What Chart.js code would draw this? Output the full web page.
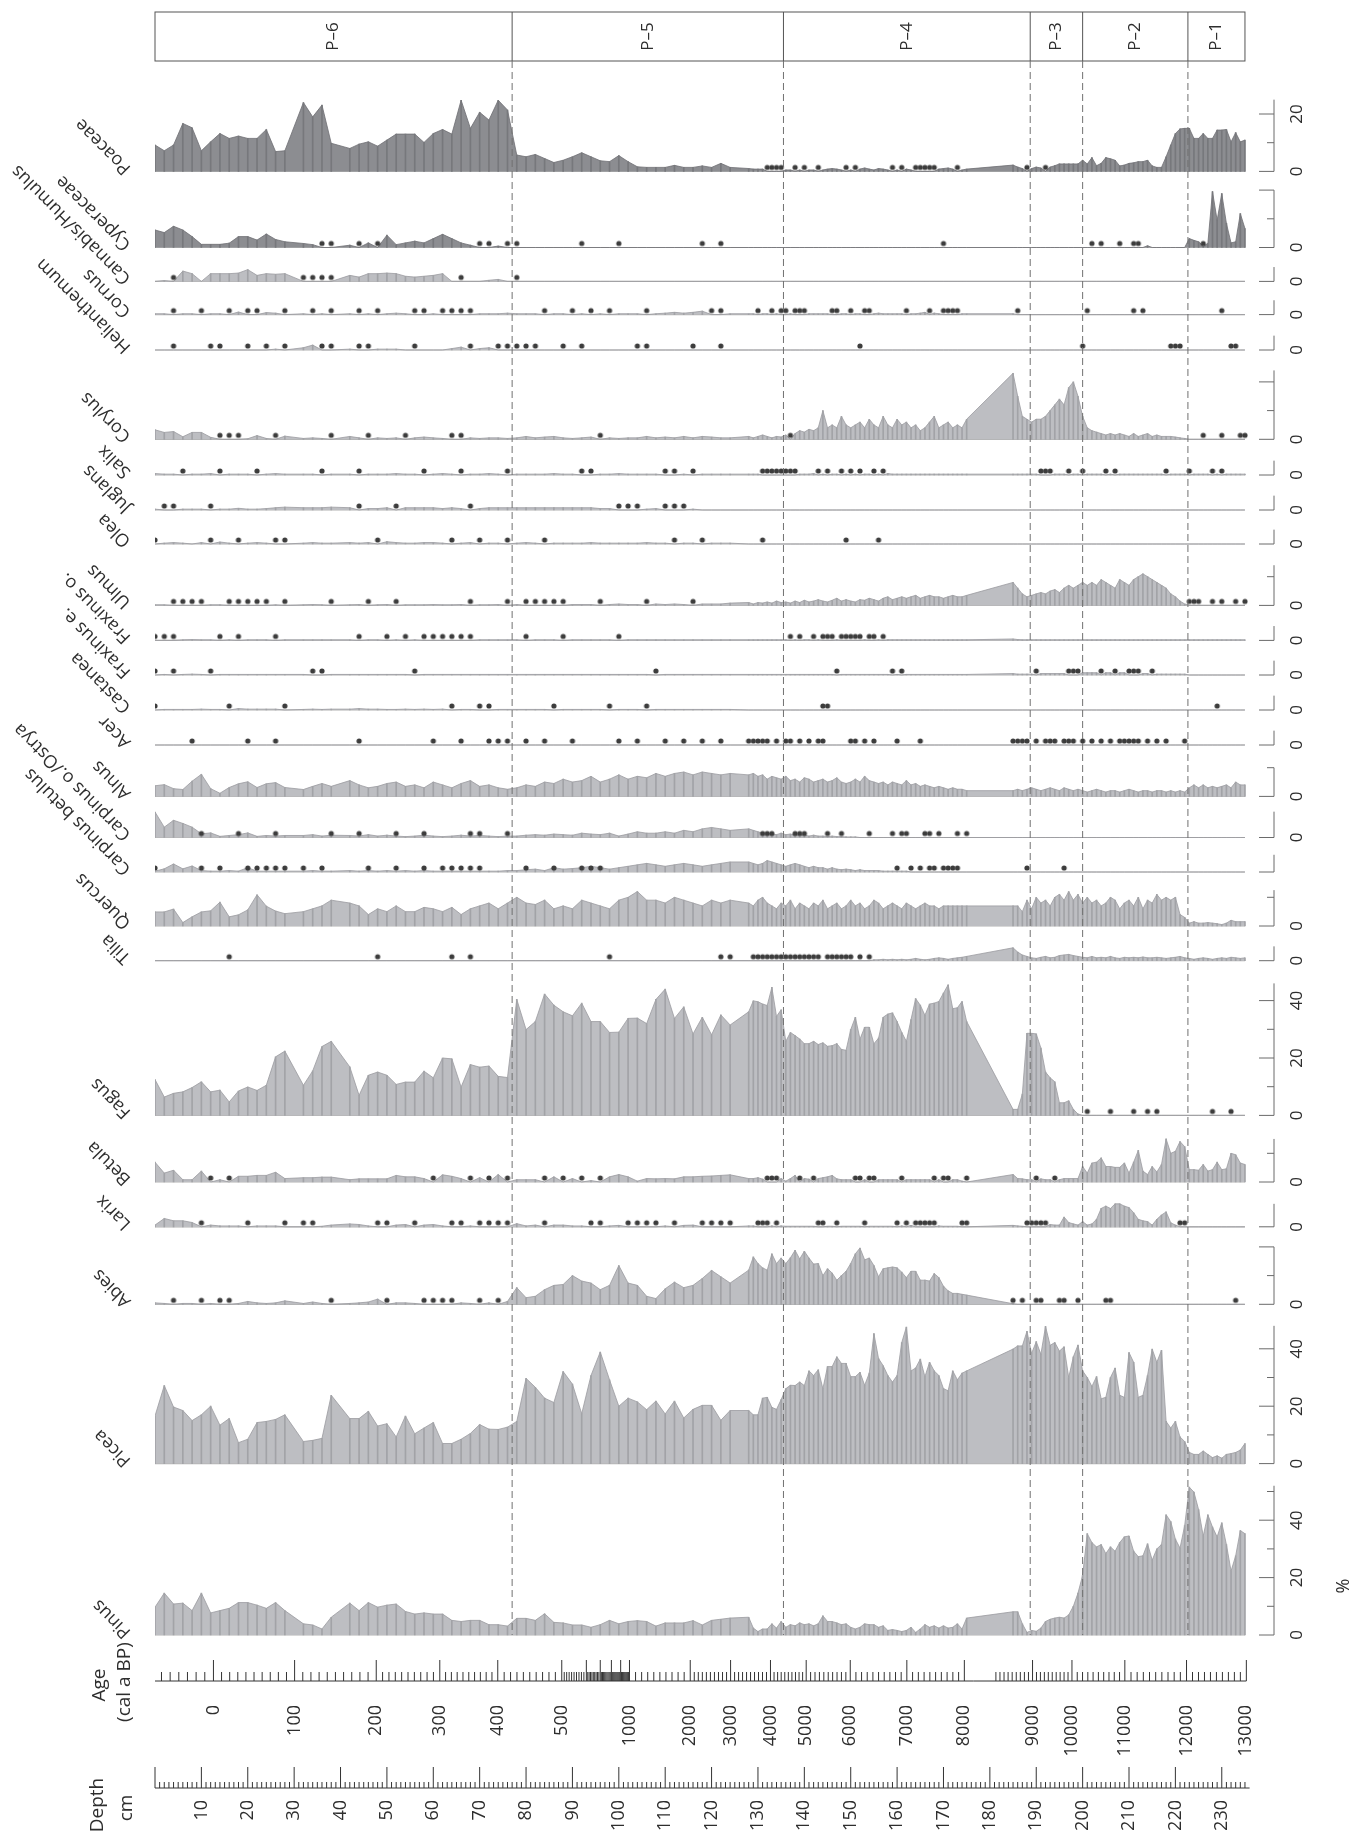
<!DOCTYPE html>
<html><head><meta charset="utf-8">
<script src="https://cdn.jsdelivr.net/npm/chart.js@4.4.1/dist/chart.umd.min.js"></script>
<style>html,body{margin:0;padding:0;background:#fff}#wrap{width:1354px;height:1836px}</style>
</head><body><div id="wrap"><canvas id="c" width="1354" height="1836"></canvas></div>
<script>
// ---------------- DATA ----------------
const depths = [0,2,4,6,8,10,12,14,16,18,20,22,24,26,28,32,34,36,38,42,44,46,48,50,52,54,56,58,60,62,64,66,68,70,72,74,76,
78,80,82,84,86,88,90,92,94,96,98,100,102,104,106,108,110,112,114,116,118,120,122,124,
128,129,130,131,132,133,134,135,136,137,138,139,140,141,142,143,144,145,146,147,148,149,150,151,152,153,154,155,156,157,158,159,160,161,162,163,164,165,166,167,168,169,170,171,172,173,174,175,
185,186,187,188,189,190,191,192,193,194,195,196,197,198,199,200,201,202,203,204,205,206,207,208,209,210,211,212,213,214,215,216,217,218,219,220,221,222,223,224,225,226,227,228,229,230,231,232,233,234,235];

const taxa = ['Poaceae','Cyperaceae','Cannabis/Humulus','Cornus','Helianthemum','Corylus','Salix','Juglans','Olea','Ulmus','Fraxinus o.','Fraxinus e.','Castanea','Acer','Alnus','Carpinus o./Ostrya','Carpinus betulus','Quercus','Tilia','Fagus','Betula','Larix','Abies','Picea','Pinus'];

const poaceae = [9.2,7.2,9.2,16.7,15.2,7.2,10.3,13.2,11.5,12.3,11.5,11.5,14.6,6.9,7.2,24.0,19.0,23.1,9.8,8.0,9.5,10.3,8.8,10.9,13.0,13.0,13.0,10.1,13.2,14.6,13.0,24.8,15.0,20.6,17.9,24.8,21.4,
5.7,5.1,5.9,4.5,3.1,3.9,5.1,6.5,5.1,3.7,3.4,5.5,3.4,1.6,1.4,1.4,1.4,2.1,1.4,1.4,1.9,1.4,2.8,1.4,
1.0,0.8,0.8,0.8,0,0,0,0,0.5,0.5,0,0.5,0,0.5,0.5,0,0.5,0.8,1.0,0.8,0.5,0,0.5,0,0.8,1.2,0.8,0.5,1.0,0.8,0.5,0,0.5,0,0.8,0.5,0,0,0,0,0,0.8,1.0,1.2,0.8,0,0.5,0.8,
2.2,1.5,1.0,0,1.0,1.5,1.2,0,1.5,2.0,2.6,2.6,2.6,2.6,2.6,3.9,2.6,4.8,2.0,2.8,4.8,4.4,3.9,1.9,2.2,2.8,3.0,3.4,3.4,3.9,1.9,1.4,1.4,5.1,9.2,13.2,14.8,15.0,15.0,11.5,11.5,13.2,11.5,11.5,14.4,14.4,14.6,10.3,13.5,10.3,10.9];
const poaceaeDots = [132,133,134,135,138,140,143,149,151,159,161,164,165,166,167,168,173,188,192];

const cyperaceae = [6.1,5.2,7.4,6.1,3.8,1.1,1.1,1.1,1.5,3.8,3.8,2.6,4.7,2.8,2.0,1.4,1.0,0,0,0.8,0,1.6,0,4.3,1.0,1.6,2.2,1.6,3.1,4.6,3.1,1.6,0.8,0,0,0.5,0,
0,0,0,0,0,0,0,0,0,0,0,0,0,0,0,0,0,0,0,0,0,0,0,0,
0,0,0,0,0,0,0,0,0,0,0,0,0,0,0,0,0,0,0,0,0,0,0,0,0,0,0,0,0,0,0,0,0,0,0,0,0,0,0,0,0,0,0,0,0,0,0,0,
0,0,0,0,0,0,0,0,0,0,0,0,0,0,0,0,0,0,0,0,0,0,0,0,0,0,0,0,0,0.6,0,0,0,0,0,0,0,0,3.1,2.5,2.0,0.5,1.4,19.5,9.5,18.8,8.4,1.6,2.0,11.8,6.6];
const cyperaceaeDots = [36,38,44,48,70,72,76,78,92,100,118,122,170,202,204,208,211,212,226];

const cannabis = [0,0.3,0,3.6,2.7,0,2.7,2.7,2.7,2.9,4.1,2.1,2.7,2.5,2.7,0,0,0,0,2.1,1.5,2.7,2.7,2.9,2.7,1.8,1.5,1.8,2.1,2.7,0,0,0,0,0.4,0.7,0,
0,0,0,0,0,0,0,0,0,0,0,0,0,0,0,0,0,0,0,0,0,0,0,0,
0,0,0,0,0,0,0,0,0,0,0,0,0,0,0,0,0,0,0,0,0,0,0,0,0,0,0,0,0,0,0,0,0,0,0,0,0,0,0,0,0,0,0,0,0,0,0,0,
0,0,0,0,0,0,0,0,0,0,0,0,0,0,0,0,0,0,0,0,0,0,0,0,0,0,0,0,0,0,0,0,0,0,0,0,0,0,0,0,0,0,0,0,0,0,0,0,0,0,0];
const cannabisDots = [4,32,34,36,38,66,78];

const cornus = [0.3,0.3,0,0.3,0.3,0,0.3,0.3,0,0.9,0,0,0.7,0.5,0,0.3,0,0.3,0,0.3,0,0.3,0,0.3,0.5,0.3,0,0,0.3,0,0,0,0,0.3,0.3,0.3,0.5,
0.3,0.3,0.3,0,0.3,0.3,0,0.3,0,0.3,0,0.3,0.3,0.3,0,0.3,0.5,0.8,0.5,0.8,1.2,0,0,0.3,
0.3,0.3,0,0.3,0.3,0,0.3,0,0,0.3,0,0,0,0.3,0.3,0.3,0.3,0.3,0,0,0.3,0.3,0,0.3,0.3,0,0,0.3,0.5,0.3,0.3,0.3,0.3,0.3,0,0.3,0.3,0.5,0.8,0,0.5,0.3,0,0,0,0,0.3,0.3,
0.3,0,0,0,0,0,0,0,0,0,0,0,0,0,0,0,0,0,0,0,0,0,0,0,0,0,0,0,0,0,0,0,0,0,0,0,0,0,0,0,0,0,0,0,0,0,0,0,0,0,0];
const cornusDots = [4,10,16,20,22,28,34,38,44,48,56,58,62,64,66,68,84,90,94,98,106,120,122,130,133,135,136,138,139,140,146,147,150,153,154,162,167,170,171,172,173,186,201,211,213,230];

const helianthemum = [0,0,0,0,0,0,0,0,0,0,0,0,0,0.3,0,0.8,1.7,0,0,0.3,0,0,0.3,0.3,0.3,0,0,0,0,0,0.5,1.0,0,0.5,0.8,0,0,
0,0,0,0,0,0,0,0,0,0,0,0,0,0,0,0,0,0,0,0,0,0,0,0,
0,0,0,0,0,0,0,0,0,0,0,0,0,0,0,0,0,0,0,0,0,0,0,0,0,0,0,0,0,0,0,0,0,0,0,0,0,0,0,0,0,0,0,0,0,0,0,0,
0,0,0,0,0,0,0,0,0,0,0,0,0,0,0,0,0,0,0,0,0,0,0,0,0,0,0,0,0,0,0,0,0,0,0,0,0,0,0,0,0,0,0,0,0,0,0,0,0,0,0];
const helianthemumDots = [4,12,14,20,24,28,36,38,44,46,56,68,74,76,78,80,82,88,92,104,106,116,122,152,200,219,220,221,232,233];

const corylus = [3.3,2.4,2.7,0.9,2.4,2.4,0.7,0,0,0,0.2,1.3,0.3,0,1.1,0.3,0.5,0.3,0,1,0.5,0,0.5,0.3,0.5,0,0.5,0.8,0.5,0.3,0,0,0.5,0.3,0.5,0.5,0.3,
0.5,1,0.5,0.8,1,0.5,0.3,0.5,0.8,0,0.5,0.3,0.5,0.5,1,0.5,0.8,0.5,1,0.5,1,0.8,0.5,0.5,
1,0.5,1,1.5,1,0.5,1,0.8,1.5,0,2,3,2.5,3.5,3,4,10,4,5,4,8,5,4,5,6,4,7,5,4,8,5,4,7,5,6,4,5,3,4,6,8,4,5,6,4,5,4,7,
23,15,8,7,6,7,7,8,10,12,14,12,18,20,15,8,4,3,2.5,2,1.5,2,1.5,2,1.5,1,2,1,1.5,2,1,1.5,1,1,1,0.8,0.5,0.3,0,0,0,0,0,0,0,0,0,0,0,0,0];
const corylusDots = [14,16,18,26,38,46,54,64,66,96,137,226,230,234,235];

const salix = [0.5,0.3,0.3,0,0.3,0.3,0.5,0,0.3,0.3,0.3,0,0.3,0.5,0.3,0.3,0.3,0,0.3,0.3,0,0.3,0.3,0.3,0.5,0.3,0.3,0,0.3,0.5,0.3,0,0.3,0.3,0.5,0.3,0,
0.3,0.3,0.3,0.3,0.5,0.3,0.3,0,0,0.3,0.3,0.5,0.3,0.3,0.3,0.3,0,0,0.3,0,0.3,0.3,0.3,0.3,
0.3,0.3,0.3,0,0,0,0,0,0,0,0,0.3,0.3,0.3,0.5,0,0.3,0,0.3,0.3,0,0.3,0,0.3,0,0.3,0.3,0,0.3,0,0.5,0.3,0.3,0.3,0.3,0.3,0.3,0.3,0.3,0.3,0.3,0.3,0.3,0.3,0.3,0.3,0.3,0.3,
0.3,0.3,0.3,0.3,0.3,0.3,0,0,0,0.3,0.3,0.3,0,0.3,0.3,0,0.3,0.3,0.3,0.3,0,0.3,0,0.3,0.3,0.3,0.3,0.3,0.3,0.3,0.3,0.3,0.3,0,0.3,0.3,0.3,0.3,0,0.3,0.3,0.3,0.3,0,0.3,0,0.3,0.3,0.3,0.3,0.3];
const salixDots = [6,14,22,36,44,58,66,76,92,94,110,112,116,131,132,133,134,135,136,137,138,143,145,148,150,152,155,157,191,192,193,197,200,205,207,218,223,228,230];

const juglans = [0.3,0,0,0.3,0.3,0.3,0,0.3,0.3,0.6,0.3,0.3,0.5,0.8,1.0,0.8,0.8,0.8,1.0,0.8,0,0.5,0.5,0.8,0,0.8,0.8,0.8,0.8,0.5,0.8,0.5,0,0.5,0.8,0.8,0.8,
0.8,0.8,0.8,0.8,0.8,0.8,0.8,0.8,0.8,0.5,0.5,0,0,0,0.3,0.5,0,0,0,0.3,0,0,0,0,
0,0,0,0,0,0,0,0,0,0,0,0,0,0,0,0,0,0,0,0,0,0,0,0,0,0,0,0,0,0,0,0,0,0,0,0,0,0,0,0,0,0,0,0,0,0,0,0,
0,0,0,0,0,0,0,0,0,0,0,0,0,0,0,0,0,0,0,0,0,0,0,0,0,0,0,0,0,0,0,0,0,0,0,0,0,0,0,0,0,0,0,0,0,0,0,0,0,0,0];
const juglansDots = [2,4,12,44,52,68,100,102,104,110,112,114];

const olea = [0,0.3,0.5,0.3,0,0.5,0,0.7,0.3,0,0.3,0.5,0.3,0,0,0.3,0.5,0.3,0.3,0.5,0.3,0.5,0,0.8,0.5,0.3,0.3,0.5,0.5,0.3,0,0.3,0.5,0,0.3,0.3,0,
0.3,0.5,0.3,0,0.3,0.3,0.3,0.3,0.5,0.3,0.3,0.3,0.3,0.3,0.5,0.3,0.3,0,0.3,0.3,0,0.3,0.3,0.3,
0,0,0,0,0,0,0,0,0,0,0,0,0,0,0,0,0,0,0,0,0,0,0,0,0,0,0,0,0,0,0,0,0,0,0,0,0,0,0,0,0,0,0,0,0,0,0,0,
0,0,0,0,0,0,0,0,0,0,0,0,0,0,0,0,0,0,0,0,0,0,0,0,0,0,0,0,0,0,0,0,0,0,0,0,0,0,0,0,0,0,0,0,0,0,0,0,0,0,0];
const oleaDots = [0,12,18,26,28,48,64,70,76,84,112,118,131,149,156];

const ulmus = [0.2,0.2,0,0,0,0,0.2,0.2,0,0,0,0,0,0.2,0,0.2,0.3,0.2,0,0.2,0.3,0,0.2,0.3,0,0.2,0.2,0.2,0.3,0.2,0.2,0.3,0,0.2,0.2,0.3,0,
0.3,0,0,0,0,0,0.3,0.3,0.3,0,0.3,0.5,0.3,0.3,0,0.5,0.3,0.5,0.3,0,0.5,0.5,0.5,0.8,
1,0.5,1,0.8,1.2,0.8,1.5,1,1.2,0.8,1.5,1,1.8,1.2,1.5,2,1.5,1.2,1.8,2.5,1.5,2,1.5,1.2,2,1.8,2.5,2,1.5,2.5,3,2,2.5,3,2.5,3,3.5,2.5,3,3.5,3,3,2.5,3,3.5,3,3,3.5,
8,6,4,3,3.5,4,4.5,4,5,5.5,4.5,6,7,6,7,8,7,8,7,9,8,7,6,9,8,7,9,10,11,10,9,8,7,6,4,3,1.5,0.5,0,0,0,0,0,0,0,0,0,0,0,0,0];
const ulmusDots = [4,6,8,10,16,18,20,22,24,28,38,46,52,68,76,80,82,84,86,88,96,106,116,223,224,225,228,230,233,235];

const fraxinusO = [0,0,0,0.2,0.3,0.2,0.2,0,0.2,0,0.2,0.2,0.2,0,0.2,0.2,0.2,0.2,0.2,0.2,0,0.2,0.2,0,0.2,0,0.2,0,0,0,0,0,0,0.2,0.2,0.2,0.2,
0.2,0,0.2,0.2,0.2,0,0.2,0.2,0.2,0.2,0.2,0,0.2,0.2,0.2,0.2,0.2,0.2,0.2,0.2,0.2,0.2,0.2,0.2,
0.2,0.2,0.2,0.2,0.2,0.2,0.2,0.2,0.2,0,0.2,0,0.2,0.2,0,0.2,0,0,0,0.2,0,0,0,0,0,0.2,0,0,0.2,0,0.2,0.2,0.2,0.2,0.2,0.2,0.2,0.2,0.2,0.2,0.2,0.2,0.2,0.2,0.2,0.2,0.2,0.2,
0.5,0.3,0.2,0.2,0.2,0.2,0.2,0.2,0.2,0.2,0.2,0.2,0.2,0.2,0.2,0.2,0.2,0.2,0.2,0.2,0.2,0.2,0.2,0.2,0.2,0.2,0.2,0.2,0.2,0.2,0.2,0.2,0.2,0.2,0.2,0.2,0.2,0.2,0.2,0.2,0.2,0.2,0.2,0.2,0.2,0.2,0.2,0.2,0.2,0.2,0.2];
const fraxinusODots = [0,2,4,14,18,26,44,50,54,58,60,62,64,66,68,80,88,100,137,139,142,144,145,146,148,149,150,151,152,154,155,157];

const fraxinusE = [0,0.2,0,0.2,0.3,0.2,0,0.2,0.2,0.2,0.2,0.2,0.2,0.2,0.2,0.2,0,0,0.2,0.2,0.2,0.2,0.2,0.2,0.2,0.2,0,0.2,0.2,0.2,0.2,0.2,0.2,0.2,0.2,0.2,0.2,
0.2,0.2,0.2,0.2,0.2,0.2,0.2,0.2,0.2,0.2,0.2,0.2,0.2,0.2,0.2,0,0.2,0.2,0.2,0.2,0.2,0.2,0.2,0.2,
0.2,0.2,0.2,0.2,0.2,0.2,0.2,0.2,0.2,0.2,0.2,0.2,0.2,0.2,0.2,0.2,0.2,0.2,0.2,0,0.2,0.2,0.2,0.2,0.2,0.2,0.2,0.2,0.2,0.2,0.2,0,0.2,0,0.2,0.2,0.2,0.2,0.2,0.2,0.2,0.2,0.2,0.2,0.2,0.2,0.2,0.2,
0.5,0.3,0.3,0.3,0.3,0,0.5,0.5,0.5,0.5,0.5,0.5,0,0,0,0.8,0.8,0.8,0.8,0,0.8,0.8,0,0.8,0.8,0,0,0,0.5,0.5,0,0.3,0.3,0.3,0.3,0.3,0.3,0.3,0,0,0,0,0,0,0,0,0,0,0,0,0];
const fraxinusEDots = [0,4,12,34,36,56,108,147,159,161,190,197,198,199,204,207,210,211,212,215];

const castanea = [0,0.2,0.2,0.2,0.2,0.3,0.2,0.2,0,0.5,0.3,0.3,0.3,0.3,0,0.2,0.3,0.2,0.3,0.3,0.5,0.3,0.3,0.2,0.2,0.3,0.2,0.3,0.2,0.3,0,0.2,0.2,0,0,0.2,0.2,
0.2,0.2,0.2,0.2,0,0.2,0.2,0.2,0.2,0.2,0,0.2,0.2,0.2,0,0.2,0.2,0.2,0.2,0.2,0.2,0.2,0.2,0.2,
0,0,0,0,0,0,0,0,0,0,0,0,0,0,0,0,0,0,0,0,0,0,0,0,0,0,0,0,0,0,0,0,0,0,0,0,0,0,0,0,0,0,0,0,0,0,0,0,
0,0,0,0,0,0,0,0,0,0,0,0,0,0,0,0,0,0,0,0,0,0,0,0,0,0,0,0,0,0,0,0,0,0,0,0,0,0,0,0,0,0,0,0,0,0,0,0,0,0,0];
const castaneaDots = [0,16,28,64,70,72,86,98,106,144,145,229];

const acer = [0,0,0,0,0,0,0,0,0,0,0,0,0,0,0,0,0,0,0,0,0,0,0,0,0,0,0,0,0,0,0,0,0,0,0,0,0,
0,0,0,0,0,0,0,0,0,0,0,0,0,0,0,0,0,0,0,0,0,0,0,0,
0,0,0,0,0,0,0,0,0,0,0,0,0,0,0,0,0,0,0,0,0,0,0,0,0,0,0,0,0,0,0,0,0,0,0,0,0,0,0,0,0,0,0,0,0,0,0,0,
0,0,0,0,0,0,0,0,0,0,0,0,0,0,0,0,0,0,0,0,0,0,0,0,0,0,0,0,0,0,0,0,0,0,0,0,0,0,0,0,0,0,0,0,0,0,0,0,0,0,0];
const acerDots = [8,20,26,44,60,66,72,74,76,80,84,90,100,104,110,114,118,122,128,129,130,131,132,134,136,137,139,141,143,144,150,151,153,155,160,165,185,186,187,188,190,192,193,194,196,197,198,200,202,204,206,208,209,210,211,212,214,216,218,222];

const alnus = [3.7,4.1,2.7,2.4,5.3,7.7,2.7,1.1,3.1,4.4,5.1,3.1,4.4,4.8,3.1,2.4,3.5,4.5,3.5,5.5,4,3,3.5,4.5,5,3.5,4,3,5,4,3,4.5,5.5,3.5,4,3,2.5,
3,4,3.5,5,4.5,6,5,5.5,7,5,6,7.5,6,7,6.5,8,7,8,8.5,7.5,8.5,8,7.5,8,
7.5,8,7,7.5,6,7,6.5,6,7,5.5,6,5,6.5,6,5,5.5,6,5,5.5,6.5,5,4.5,5,6,5,7,5.5,5,4.5,5,4,5,4.5,4,5.5,4,4.5,3.5,4,3.5,3,3.5,3,2.5,3,2.5,2.5,2,
2,2.5,2,2.5,3,2.5,2,2.5,3,2.5,2,3,2.5,2,2.5,2,1.5,2,2.5,2,1.5,2,2,1.5,2,2.5,2,1.5,2,2,1.5,2,2,1.5,2,1.5,2,1.5,3,4,3,4,3,3.5,3,3.5,4,3,5,4,4];
const alnusDots = [];

const carpinusO = [8.9,3.6,6.0,4.9,3.6,1.3,1.6,0.4,0.7,1.0,1.6,0.4,0.7,0.5,0.7,0.7,1,0.5,0.8,0.7,0.5,1,0.5,0.8,0.5,0.3,0.5,0.8,0.5,0.3,0.5,0.8,0.5,0.7,0.5,0.3,0.5,
0.5,0.8,1,0.8,1.2,1,0.8,1.5,1.2,1,1.5,0.5,1.2,2,1.5,1.5,2,1.5,2.5,2,3,3.5,3,2.5,
3,2.5,2,1.5,1.5,1.2,1,1.5,1,1.2,0.8,1,0.8,0.5,0.8,0.5,0.5,0.3,0.5,0.3,0.3,0.2,0.2,0.2,0,0,0,0,0,0,0,0,0,0,0,0,0,0,0,0,0,0,0,0,0,0,0,0,
0,0,0,0,0,0,0,0,0,0,0,0,0,0,0,0,0,0,0,0,0,0,0,0,0,0,0,0,0,0,0,0,0,0,0,0,0,0,0,0,0,0,0,0,0,0,0,0,0,0,0];
const carpinusODots = [10,18,26,38,44,52,58,68,70,76,131,132,133,138,139,140,145,148,154,159,161,162,166,167,169,173,175];

const carpinusB = [0.3,1.1,2.8,1.1,2.1,0.5,0.3,0.3,0.5,0.3,1.5,0.3,0.3,0.3,0.3,0.3,0.5,0.3,0.3,0.5,0.3,0.5,0.3,0.5,0.3,0.5,0.3,0.5,0.3,0.3,0.3,0.3,0.3,0.3,0.3,0.3,0.5,
0.5,0.8,1,0.5,1.5,1,1.2,1.5,2,1.5,1,1.5,2,2.5,3,2.5,2,2.5,3,2.5,2,2.5,3,3.5,
3.5,3,2.5,3,4,3.5,3,2.5,2,2.5,3,2.5,2,1.5,2,1.5,1.5,1,1.5,1,0.8,1,0.8,0.5,0.8,0.5,0.5,0.5,0.5,0.3,0.3,0.3,0.3,0.3,0.3,0,0,0,0,0,0,0,0,0,0,0,0,0,
0,0,0,0,0,0,0,0,0,0,0,0,0,0,0,0,0,0,0,0,0,0,0,0,0,0,0,0,0,0,0,0,0,0,0,0,0,0,0,0,0,0,0,0,0,0,0,0,0,0,0];
const carpinusBDots = [0,10,14,20,22,24,26,28,32,36,46,52,58,62,64,66,68,70,80,86,92,94,96,160,163,165,167,168,170,171,172,173,188,196];

const quercus = [4.9,4.9,5.9,1.2,3.2,4.9,5.3,8.3,3.2,3.9,5.6,10.9,6.9,5.2,4.3,5,6,7,9,8,7,4,6,5,7,5,5,6.5,6,5,6.5,4,6,7,8,6,8,
10,8,7.5,9,6,7,6,9,8,7,6,9,10,12,9,9,8,10,9,8,7,9,8,9,
8,7,9,10,8,7,6,8,7,9,6,8,7,6,8,7,9,6,7,8,6,7,9,7,8,6,7,9,8,6,7,8,7,6,8,7,6,7,8,7,7,6,7,7,7,7,7,7,
7,7,5,9,6,10,8,9,7,10,11,9,12,9,11,8,10,8,9,7,8,10,9,6,8,9,7,10,6,9,8,11,9,10,9,10,4,3,1,1.5,1,1,1.2,1,0.8,0.5,1,2,1.5,1.5,1.5];
const quercusDots = [];

const tilia = [0,0,0,0,0,0,0,0,0,0,0,0,0,0,0,0,0,0,0,0,0,0,0,0,0,0,0,0,0,0,0,0,0,0,0,0,0,
0,0,0,0,0,0,0,0,0,0,0,0,0,0,0,0,0,0,0,0,0,0,0,0,
0,0,0,0,0,0,0,0,0,0,0,0,0,0,0,0,0,0,0,0,0,0,0,0,0,0,0,0.3,0.3,0.5,0.3,0.5,0.3,0.5,0.3,0.5,0.8,0.5,0.3,0.5,0.8,1,0.8,0.5,0.8,1,1.2,1.5,
4.5,3,2,1.5,1,0.8,1.2,1.5,1,1.2,1.8,2,2.2,1.8,1.5,1.2,1,1.5,1,1.2,1,1.5,1,0.8,1.2,1,1.2,1,1.3,1,1,1.2,1,0.8,1,1.2,1.5,1,0.8,0.5,0.8,1,0.8,0.5,0.8,1,0.8,1.2,1,0.8,1];
const tiliaDots = [16,48,64,68,98,122,124,129,130,131,132,133,134,135,136,137,138,139,140,141,142,143,145,146,147,148,149,150,152,154];

const fagus = [12.5,6.4,7.7,8.2,9.7,11.7,8.2,8.8,4.7,8.5,9.9,8.7,10.5,20.4,22.4,10.5,15.5,24.0,25.8,16.9,7.0,14.0,15.1,14.0,10.8,11.6,11.6,15.4,13.1,20.0,19.7,9.9,17.7,16.8,17.2,13.6,13.2,
40.4,29.9,32.7,42.3,38.4,36.1,34.7,39.1,32.7,32.7,28.9,29.0,33.8,33.9,32.0,40.4,44.0,33.8,37.8,28.4,34.2,28.1,35.0,31.5,
36.1,39.9,39.6,38.8,38.3,44.6,34.5,36.8,25.8,28.9,27.8,26.6,25.0,25.0,25.8,24.7,25.3,24.1,24.3,25.0,23.0,22.7,29.9,34.2,26.6,30.7,30.7,25.0,26.9,34.2,35.3,35.7,32.7,28.9,25.8,33.4,40.7,38.4,34.9,38.8,39.1,39.7,42.6,45.5,37.2,37.5,39.7,32.7,
2.1,2.1,7.4,28.6,28.6,28.4,23.5,15.1,13.1,11.7,4.4,4.4,5.1,2.1,0.5,0,0,0,0,0,0,0,0,0,0,0,0,0,0,0,0,0,0,0,0,0,0,0,0,0,0,0,0,0,0,0,0,0,0,0,0];
const fagusDots = [201,206,211,214,216,228,232];

const betula = [6.9,3.1,4.1,0.8,0.8,3.8,0,0.8,0,2.0,2.0,2.3,2.3,3.4,1.2,1.5,1.5,1.7,1.7,0.8,1.1,1.1,1.1,1.1,2.3,1.8,1.8,1.2,0,2.5,2.0,1.2,0,1.5,0,2.6,0,
0.8,0.8,0.8,0,1.8,0,1.2,0,0.5,0,1.8,2.6,1.8,0.3,1.2,1.1,1.2,1.1,1.8,1.8,2.0,2.1,2.3,2.5,
1.2,1.2,1.5,1.0,0,0,0,1.2,0.3,1.2,2.3,0,1.2,1.0,0,1.2,1.5,1.8,2.3,1.1,0.8,0.8,0.8,0,0,0.8,0,0,0.8,0.8,0.8,0.8,0.8,0,0.8,0.8,0.8,0.8,0.8,0.8,0,0.8,0,0,0.8,0.8,0.3,0,
2.6,1.2,1.1,0.8,0.8,0,1.1,0.8,0.8,0,0.8,1.2,1.2,1.2,1.2,5.4,3.1,6.6,6.9,8.4,5.4,5.4,5.1,5.1,6.6,3.1,6.9,11.0,3.8,2.6,5.4,3.5,6.1,15.0,10.0,10.7,14.1,12.3,4.3,4.3,4.1,6.1,3.8,4.3,6.9,4.3,4.6,10.0,9.5,6.6,6.1];
const betulaDots = [12,16,60,68,72,76,84,88,92,96,132,133,134,139,142,151,152,154,155,161,168,170,171,175,190,194];

const larix = [0.6,2.9,2.1,2.1,1.5,0,0.6,0.3,0.3,0.3,0,0.3,0.3,0.3,0,0,0,0.2,0.6,1.0,0.8,0.3,0,0,0.6,0.8,0,0.6,0.8,0.3,0,0,0.3,0,0,0,0,
1.1,0.3,0.6,0,0.6,0.6,0.3,0.3,0,0,0.3,0.5,0,0,0,0,0.3,0,0.5,0.6,0,0,0,0,
0.3,0.3,0,0,0,0.3,0,0.3,0.2,0.2,0.2,0.2,0.2,0.2,0.2,0,0,0.2,0.2,0,0.2,0.2,0.2,0.2,0.2,0,0.2,0.2,0.2,0.2,0.2,0.2,0,0.3,0,0.5,0,0,0,0,0,0.3,0.2,0.2,0.2,0.2,0,0,
0.5,0.3,0.2,0,0,0,0,0,0.8,0.6,0.6,3.4,1.5,1.0,0.6,1.8,0.6,1.0,2.6,6.4,7.2,6.4,8.0,8.0,7.2,6.7,4.9,2.6,2.1,1.8,0.6,2.6,4.1,5.2,1.4,0.6,0,0,0,0,0,0,0,0,0,0,0,0,0,0,0];
const larixDots = [10,20,28,32,34,48,50,56,64,66,70,72,74,76,84,94,96,102,104,106,108,112,118,120,122,124,130,131,132,134,143,144,147,153,160,162,164,165,166,167,168,174,175,188,189,190,191,192,221,222];

const abies = [0.5,0.3,0,0.3,0.3,0,0.3,0,0,0.3,1.0,0.5,0.3,0.5,1.2,0.3,0.8,0.3,0,0.3,0.5,0.8,1.8,0,0.5,0.5,0.3,0,0,0,0,0.5,0.3,0,0.5,0,1.0,
5.8,2.3,2.8,5.1,6.6,6.9,10.0,8.1,7.4,5.1,6.6,13.5,7.4,6.6,2.8,2.0,5.4,7.7,5.8,6.6,9.0,11.8,9.6,7.4,
11.9,16.5,14.2,12.7,11.9,17.6,14.2,16.1,14.2,16.2,18.8,15.8,18.5,16.1,14.0,14.2,10.0,12.4,10.9,8.4,10.0,11.5,14.2,17.6,19.6,15.5,16.1,13.5,9.6,12.4,12.7,13.0,12.7,11.2,9.3,11.5,11.5,8.4,8.4,8.1,10.7,9.3,6.3,4.7,3.8,3.8,3.5,3.2,
0.2,0,0,0,0,0,0,0,0,0,0,0,0,0,0,0,0,0,0,0,0,0,0,0,0,0,0,0,0,0,0,0,0,0,0,0,0,0,0,0,0,0,0,0,0,0,0,0,0,0,0];
const abiesDots = [4,10,14,16,38,50,58,60,62,64,70,74,185,187,190,191,195,196,199,205,206,233];

const picea = [16.6,27.2,19.7,18.5,15.0,17.0,20.0,13.4,15.7,7.3,8.5,14.3,14.7,15.4,17.0,7.7,8.1,8.8,23.8,15.7,15.7,18.2,13.1,13.9,9.3,16.6,10.4,12.4,14.3,7.0,7.0,8.5,10.5,13.6,12.0,11.9,12.7,
14.7,29.7,26.6,22.8,21.3,32.1,27.7,17.4,30.7,38.9,29.2,20.0,22.8,21.5,18.8,21.8,17.3,21.8,15.9,18.9,20.3,20.3,15.1,18.5,
18.5,17.0,17.0,22.8,23.1,19.6,18.9,22.3,26.1,27.3,27.2,28.4,27.2,32.3,30.7,32.7,26.1,33.8,33.8,37.2,34.9,34.9,30.3,30.3,31.8,27.3,31.5,45.3,36.6,34.1,30.7,28.4,30.7,42.2,47.6,32.3,33.3,36.4,30.3,35.3,32.3,30.7,26.1,25.4,32.3,29.2,31.5,32.3,
39.9,41.0,41.0,46.1,38.4,42.5,38.1,47.8,41.2,42.2,39.2,40.7,30.0,37.2,41.3,32.3,30.0,26.9,30.3,22.6,23.1,30.0,33.3,23.8,23.1,38.7,35.3,23.1,23.8,30.7,39.9,35.3,39.5,14.7,12.4,14.7,9.3,7.7,3.9,3.2,3.2,4.4,3.2,2.1,2.7,1.9,3.2,3.5,3.9,4.7,7.0];
const piceaDots = [];

const pinus = [9.7,14.6,10.8,11.1,8.5,14.6,7.7,8.5,9.3,11.3,11.3,10.4,9.3,11.3,8.5,3.9,3.5,2.1,6.2,11.1,8.5,11.3,9.7,10.4,10.8,8.2,7.3,7.7,7.3,7.3,5.1,4.7,5.1,5.1,3.6,3.6,3.1,
5.8,5.8,5.1,7.4,4.4,4.2,3.5,3.5,2.7,3.6,5.1,3.9,4.7,5.0,4.7,3.1,4.2,4.2,4.2,5.0,3.5,5.1,5.5,5.9,
6.2,2.4,1.2,2.1,2.1,3.9,2.4,4.7,2.7,3.6,3.2,4.2,3.6,3.9,3.2,3.9,6.7,4.7,4.7,4.2,3.6,3.9,2.7,2.1,2.7,3.9,3.6,3.6,2.7,3.2,1.6,1.9,1.6,1.2,1.6,2.7,0.9,2.1,3.6,2.7,3.2,2.4,3.2,2.4,2.7,3.9,2.1,5.9,
8.1,8.1,3.9,0.9,1.6,1.3,2.4,4.7,5.5,5.9,6.2,5.9,7.0,10.0,14.6,20.8,35.3,32.2,30.7,31.5,28.4,30.7,29.2,32.2,34.2,34.5,29.2,27.3,27.6,31.8,26.1,30.0,31.5,41.9,39.5,33.4,30.3,38.1,51.5,49.8,43.7,34.5,41.9,37.6,34.2,39.1,31.5,22.3,27.6,36.4,35.3];
const pinusDots = [];

const seriesVals = [poaceae,cyperaceae,cannabis,cornus,helianthemum,corylus,salix,juglans,olea,ulmus,fraxinusO,fraxinusE,castanea,acer,alnus,carpinusO,carpinusB,quercus,tilia,fagus,betula,larix,abies,picea,pinus];
const seriesDots = [poaceaeDots,cyperaceaeDots,cannabisDots,cornusDots,helianthemumDots,corylusDots,salixDots,juglansDots,oleaDots,ulmusDots,fraxinusODots,fraxinusEDots,castaneaDots,acerDots,alnusDots,carpinusODots,carpinusBDots,quercusDots,tiliaDots,fagusDots,betulaDots,larixDots,abiesDots,piceaDots,pinusDots];

// axis ranges (%) and labelled ticks per taxon
const axisMax = [25,20,5,5,5,24,5,5,5,14,5,5,5,5,10,9,6,12.5,5,46,15,8,20,48,52];
const tickLabelVals = [[0,20],[0],[0],[0],[0],[0],[0],[0],[0],[0],[0],[0],[0],[0],[0],[0],[],[0],[0],[0,20,40],[0],[0],[0],[0,20,40],[0,20,40]];
const darkTaxa = ['Poaceae','Cyperaceae'];

// zones
const zoneBounds = [0,77,135.5,188.7,200,222.7,235];
const zoneLabels = ['P–6','P–5','P–4','P–3','P–2','P–1'];

// depth & age axes
const depthTickLabels = [10,20,30,40,50,60,70,80,90,100,110,120,130,140,150,160,170,180,190,200,210,220,230];
const ageCtrlAges   = [-60,0,100,200,300,400,500,600,700,800,900,1000,2000,3000,4000,5000,6000,7000,8000,8100,9000,10000,11000,12000,13000];
const ageCtrlDepths = [1.4,12.6,30.1,47.7,61.4,73.9,87.7,93.0,96.0,98.4,100.4,102.3,115.4,124.1,132.7,140.4,149.9,162.1,174.5,181.3,189.2,197.7,209.1,222.4,235.3];
const ageTickLabels = [0,100,200,300,400,500,1000,2000,3000,4000,5000,6000,7000,8000,9000,10000,11000,12000,13000];

// ---------------- LAYOUT ----------------
const L = {left:155, right:1249.6, top:61, bottom:1640, xMax:236, pxPerPct:2.87, axisX:1274,
  baselines:[171.4,247.5,281.4,314.6,350,439.3,475,510,544,605.4,640.4,675,710,745,796.4,837.5,872,926,960.7,1115.4,1182,1226.8,1304.3,1463.6,1635]};
const FONT = '"Open Sans", "DejaVu Sans", sans-serif';
const C = {lightFill:'#bdbec2', lightEdge:'#9a9b9f', lightBar:'#a2a3a7', darkFill:'#8c8d91', darkEdge:'#6e6f73', darkBar:'#77787c', dot:'#3c3c3c', text:'#2e2e2e', axis:'#6a6a6a', base:'#b2b2b2'};

seriesVals.forEach((v,i)=>{ if(v.length!==depths.length) throw new Error(taxa[i]+' has '+v.length+' values, expected '+depths.length); });

// dot marker: circle drawn just above the point
const dotImg = document.createElement('canvas'); dotImg.width = 8; dotImg.height = 16;
(function(){const g=dotImg.getContext('2d'); g.fillStyle=C.dot; g.beginPath(); g.arc(4,4,2.6,0,Math.PI*2); g.fill();})();

const H = L.bottom - L.top;
const scales = { x:{type:'linear', min:0, max:L.xMax, display:false, offset:false, grid:{display:false, offset:false}} };
const datasets = [];
taxa.forEach((t,i)=>{
  const mn = -(L.bottom - L.baselines[i]) / L.pxPerPct;
  scales['y'+i] = {type:'linear', display:false, min:mn, max:mn + H/L.pxPerPct};
  const dark = darkTaxa.includes(t);
  const pts = depths.map((d,j)=>({x:d, y:seriesVals[i][j]}));
  datasets.push({type:'line', label:t, data:pts, yAxisID:'y'+i, fill:'origin', tension:0,
    backgroundColor: dark?C.darkFill:C.lightFill, borderColor: dark?C.darkEdge:C.lightEdge, borderWidth:0.8, pointRadius:0, order:3});
  datasets.push({type:'bar', label:t+' samples', data:pts.filter(p=>p.y>0), yAxisID:'y'+i, grouped:false, barThickness:1,
    backgroundColor: dark?C.darkBar:C.lightBar, borderWidth:0, order:2});
  if (seriesDots[i].length) datasets.push({type:'line', label:t+' <1%', showLine:false, data:seriesDots[i].map(d=>({x:d,y:0})), yAxisID:'y'+i,
    pointStyle:dotImg, pointRadius:3, order:1});
});

function rtext(ctx, s, x, y, deg, align, base, size){
  ctx.save(); ctx.translate(x,y); ctx.rotate(deg*Math.PI/180);
  ctx.font = size+'px '+FONT; ctx.fillStyle = C.text; ctx.textAlign = align; ctx.textBaseline = base;
  ctx.fillText(s,0,0); ctx.restore();
}
function seg(ctx,x1,y1,x2,y2){ctx.beginPath();ctx.moveTo(x1,y1);ctx.lineTo(x2,y2);ctx.stroke();}

const deco = {
  id:'deco',
  beforeDatasetsDraw(chart){
    const ctx = chart.ctx, xs = chart.scales.x;
    ctx.save(); ctx.strokeStyle = C.base; ctx.lineWidth = 1.2;
    taxa.forEach((t,i)=>{ const y = chart.scales['y'+i].getPixelForValue(0); seg(ctx, xs.getPixelForValue(0), y, xs.getPixelForValue(235), y); });
    ctx.restore();
  },
  afterDatasetsDraw(chart){
    const ctx = chart.ctx, xs = chart.scales.x;
    const X = d => xs.getPixelForValue(d);
    ctx.save();
    // zone box
    const boxTop = 12, boxBot = L.top;
    ctx.strokeStyle = '#555'; ctx.lineWidth = 1;
    ctx.strokeRect(X(0), boxTop, X(235)-X(0), boxBot-boxTop);
    for (let z=1; z<zoneBounds.length-1; z++) seg(ctx, X(zoneBounds[z]), boxTop, X(zoneBounds[z]), boxBot);
    for (let z=0; z<zoneLabels.length; z++) rtext(ctx, zoneLabels[z], (X(zoneBounds[z])+X(zoneBounds[z+1]))/2, (boxTop+boxBot)/2, -90, 'center', 'middle', 17);
    // dashed zone lines
    ctx.strokeStyle = '#707070'; ctx.setLineDash([7,4]); ctx.lineWidth = 1;
    const yEnd = chart.scales['y'+(taxa.length-1)].getPixelForValue(0);
    for (let z=1; z<zoneBounds.length-1; z++) seg(ctx, X(zoneBounds[z]), boxBot, X(zoneBounds[z]), yEnd);
    ctx.setLineDash([]);
    // right-hand % axes
    ctx.strokeStyle = C.axis; ctx.lineWidth = 1;
    const AX = L.axisX;
    taxa.forEach((t,i)=>{
      const ys = chart.scales['y'+i];
      const y0 = ys.getPixelForValue(0), yT = ys.getPixelForValue(axisMax[i]);
      seg(ctx, AX, y0, AX, yT);
      for (let v=0; v<=axisMax[i]+0.01; v+=10){ const y = ys.getPixelForValue(v); seg(ctx, AX-(v%20===0?15:7), y, AX, y); }
      tickLabelVals[i].forEach(v=> rtext(ctx, String(v), AX+23, ys.getPixelForValue(v), -90, 'center', 'middle', 17));
      rtext(ctx, t, 128, L.baselines[i], -135, 'left', 'middle', 18);
    });
    rtext(ctx, '%', 1344, 1586, -90, 'center', 'middle', 18);
    // age axis
    const ageY = 1681;
    ctx.strokeStyle = '#333'; ctx.lineWidth = 1;
    seg(ctx, X(0), ageY, X(ageCtrlDepths[ageCtrlDepths.length-1]), ageY);
    for (let k=0; k<ageCtrlAges.length-1; k++){
      const a0 = ageCtrlAges[k], a1 = ageCtrlAges[k+1], d0 = ageCtrlDepths[k], d1 = ageCtrlDepths[k+1];
      const step = a0 < 1000 ? 10 : 100;
      for (let a=a0; a<a1; a+=step){
        const d = d0 + (d1-d0)*(a-a0)/(a1-a0);
        const major = (a>=0 && a<=1000 && a%100===0) || (a>=1000 && a%1000===0);
        seg(ctx, X(d), ageY, X(d), ageY-(major?21:9));
      }
    }
    seg(ctx, X(235.3), ageY, X(235.3), ageY-21);
    ageTickLabels.forEach(a=>{ const k = ageCtrlAges.indexOf(a); rtext(ctx, String(a), X(ageCtrlDepths[k]), 1705, -90, 'right', 'middle', 18); });
    rtext(ctx, 'Age', 100, 1685, -90, 'center', 'middle', 19);
    rtext(ctx, '(cal a BP)', 125, 1682, -90, 'center', 'middle', 19);
    // depth axis
    const dY = 1788;
    seg(ctx, X(0), dY, X(L.xMax), dY);
    for (let d=0; d<=235; d++){ seg(ctx, X(d), dY, X(d), dY-(d%10===0?21:6)); }
    depthTickLabels.forEach(d=> rtext(ctx, String(d), X(d), 1800, -90, 'right', 'middle', 18));
    rtext(ctx, 'Depth', 98, 1805, -90, 'center', 'middle', 19);
    rtext(ctx, 'cm', 127, 1808, -90, 'center', 'middle', 19);
    ctx.restore();
  }
};

new Chart(document.getElementById('c'), {
  type:'line',
  data:{datasets},
  options:{
    responsive:false, animation:false, devicePixelRatio:1, events:[],
    layout:{padding:{left:L.left, right:1354-L.right, top:L.top, bottom:1836-L.bottom}},
    scales,
    plugins:{legend:{display:false}, tooltip:{enabled:false}, title:{display:false}}
  },
  plugins:[deco]
});
</script>
</body></html>
